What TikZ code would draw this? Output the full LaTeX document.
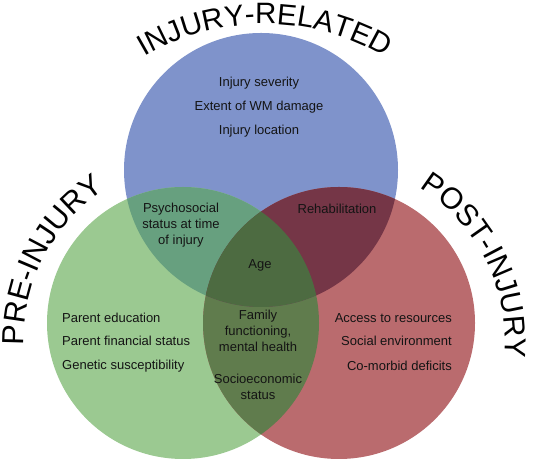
\documentclass[tikz,border=0pt]{standalone}
\usepackage{fontspec}
\setmainfont{Liberation Sans}
\usetikzlibrary{decorations.text}
\definecolor{cblue}{RGB}{127,147,203}
\definecolor{cgreen}{RGB}{155,201,145}
\definecolor{cred}{RGB}{186,107,110}
\definecolor{cbg}{RGB}{103,160,127}
\definecolor{cbr}{RGB}{117,54,71}
\definecolor{cgr}{RGB}{96,124,77}
\definecolor{cbgr}{RGB}{77,107,65}
\definecolor{ctext}{RGB}{20,20,20}
\begin{document}
\begin{tikzpicture}[x=1pt,y=1pt,
  lbl/.style={inner sep=0pt,text=ctext,font=\fontsize{13}{16}\selectfont,align=center},
  title/.style 2 args={decorate,decoration={text along path,text align=center,
     text={|\fontsize{#1}{#1}\selectfont|#2}}}]
\useasboundingbox (0,0) rectangle (535,462);
\coordinate (T) at (261,292);
\coordinate (L) at (183,139);
\coordinate (R) at (339,139);
\coordinate (cI) at (265,202);
\coordinate (cP) at (204,122);
\coordinate (cQ) at (323,120);
% base circles
\fill[cblue] (T) circle (137pt);
\fill[cgreen] (L) circle (136pt);
\fill[cred] (R) circle (136pt);
% green-red overlap
\begin{scope}
  \clip (L) circle (136pt);
  \fill[cgr] (R) circle (136pt);
\end{scope}
% overlaps with top circle
\begin{scope}
  \clip (T) circle (137pt);
  \fill[cbg] (L) circle (136pt);
  \fill[cbr] (R) circle (136pt);
  \clip (L) circle (136pt);
  \fill[cbgr] (R) circle (136pt);
\end{scope}
% curved titles
\path[title={29.5}{INJURY-RELATED}] ([shift={(cI)}]120:236pt) arc[start angle=120, end angle=60, radius=236pt];
\path[title={30.5}{PRE-INJURY}] ([shift={(cP)}]185:180pt) arc[start angle=185, end angle=120, radius=180pt];
\path[title={30}{POST-INJURY}] ([shift={(cQ)}]60:182pt) arc[start angle=60, end angle=-7, radius=182pt];
% texts
\node[lbl] (t1) at (259,379) {Injury severity};
\node[lbl] (t2) at (259,355) {Extent of WM damage};
\node[lbl] (t3) at (259,331) {Injury location};
\node[lbl] (psy) at (181,237) {Psychosocial\\status at time\\of injury};
\node[lbl] (reh) at (337,253) {Rehabilitation};
\node[lbl] (age) at (260,197) {Age};
\node[lbl] (fam) at (258,131) {Family\\functioning,\\mental health};
\node[lbl] (ses) at (258,75) {Socioeconomic\\status};
\node[lbl,anchor=west] (p1) at (62,144) {Parent education};
\node[lbl,anchor=west] (p2) at (62,121) {Parent financial status};
\node[lbl,anchor=west] (p3) at (62,96) {Genetic susceptibility};
\node[lbl,anchor=east] (q1) at (452,144) {Access to resources};
\node[lbl,anchor=east] (q2) at (452,121) {Social environment};
\node[lbl,anchor=east] (q3) at (452,96) {Co-morbid deficits};
\end{tikzpicture}
\end{document}
